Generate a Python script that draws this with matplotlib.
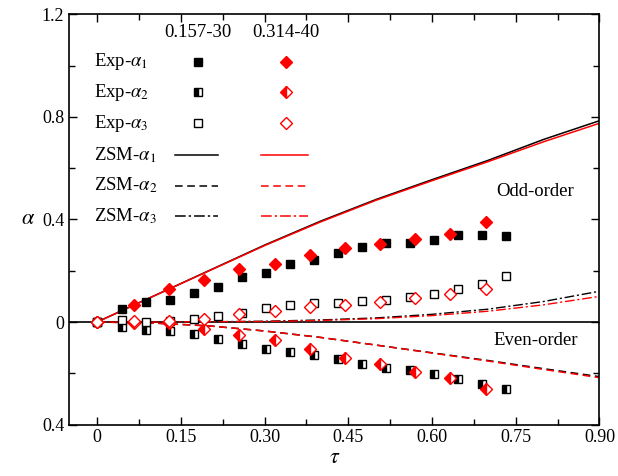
import numpy as np
import matplotlib
matplotlib.use('Agg')
import matplotlib.pyplot as plt

plt.rcParams['font.family'] = ['Liberation Serif', 'DejaVu Serif']
plt.rcParams['mathtext.fontset'] = 'stix'

# experiment 0.157-30 (black squares)
tau_b = [0, 0.045, 0.088, 0.131, 0.174, 0.217, 0.260, 0.303, 0.346, 0.389, 0.432,
         0.475, 0.518, 0.561, 0.604, 0.647, 0.690, 0.733]
a1_b = [0, 0.052, 0.078, 0.087, 0.113, 0.135, 0.176, 0.193, 0.225, 0.240, 0.271,
        0.292, 0.308, 0.308, 0.318, 0.338, 0.340, 0.335]
a2_b = [0, -0.019, -0.030, -0.035, -0.048, -0.066, -0.084, -0.104, -0.117, -0.130, -0.145,
        -0.165, -0.178, -0.188, -0.201, -0.223, -0.240, -0.262]
a3_b = [0, 0.007, 0.001, 0.004, 0.013, 0.023, 0.034, 0.053, 0.065, 0.073, 0.075,
        0.081, 0.084, 0.096, 0.108, 0.130, 0.149, 0.178]

# experiment 0.314-40 (red diamonds)
tau_r = [0, 0.066, 0.129, 0.192, 0.255, 0.318, 0.381, 0.444, 0.507, 0.570, 0.633, 0.696]
a1_r = [0, 0.065, 0.130, 0.162, 0.205, 0.227, 0.261, 0.290, 0.303, 0.322, 0.345, 0.391]
a2_r = [0, -0.002, -0.005, -0.026, -0.052, -0.071, -0.105, -0.139, -0.165, -0.194, -0.219, -0.262]
a3_r = [0, 0.003, 0.005, 0.013, 0.033, 0.043, 0.060, 0.068, 0.079, 0.093, 0.109, 0.127]

# ZSM model curves
tau_m = [0, 0.1, 0.2, 0.3, 0.4, 0.5, 0.6, 0.7, 0.8, 0.9]
z1_b = [0, 0.100, 0.200, 0.300, 0.393, 0.478, 0.555, 0.630, 0.712, 0.785]
z1_r = [0, 0.100, 0.199, 0.298, 0.390, 0.475, 0.551, 0.625, 0.703, 0.775]
z2_b = [0, -0.004, -0.015, -0.035, -0.060, -0.090, -0.120, -0.150, -0.182, -0.213]
z2_r = [0, -0.004, -0.015, -0.035, -0.060, -0.090, -0.121, -0.152, -0.185, -0.217]
z3_b = [0, 0.000, 0.001, 0.003, 0.008, 0.016, 0.030, 0.050, 0.080, 0.120]
z3_r = [0, 0.000, 0.001, 0.002, 0.006, 0.013, 0.025, 0.042, 0.067, 0.100]

fig = plt.figure(figsize=(6.18, 4.76), dpi=100)
ax = fig.add_axes([0.112, 0.108, 0.858, 0.862])

red = '#ff0000'
ax.axhline(0, color='black', lw=1.2, zorder=1)

ax.plot(tau_m, z1_b, '-', color='black', lw=1.1)
ax.plot(tau_m, z1_r, '-', color=red, lw=1.1)
ax.plot(tau_m, z2_b, '--', color='black', lw=1.1, dashes=(5, 3))
ax.plot(tau_m, z2_r, '--', color=red, lw=1.1, dashes=(5, 3))
ax.plot(tau_m, z3_b, '-.', color='black', lw=1.0, dashes=(7, 2, 1.5, 2))
ax.plot(tau_m, z3_r, '-.', color=red, lw=1.0, dashes=(7, 2, 1.5, 2))

sq = dict(marker='s', ms=6, ls='none', mec='black', mew=1.0)
dm = dict(marker='D', ms=6.5, ls='none', mec=red, mew=1.0)
ax.plot(tau_b, a1_b, mfc='black', **sq)
ax.plot(tau_b, a2_b, mfc='black', fillstyle='left', markerfacecoloralt='white', **sq)
ax.plot(tau_b, a3_b, mfc='white', **sq)
ax.plot(tau_r, a1_r, mfc=red, **dm)
ax.plot(tau_r, a2_r, mfc=red, fillstyle='left', markerfacecoloralt='white', **dm)
ax.plot(tau_r, a3_r, mfc='white', **dm)

# hand-made legend
fs = 13.5
xb, xr = 0.181, 0.338
ax.text(xb, 1.13, '0.157-30', ha='center', va='center', fontsize=fs)
ax.text(xr, 1.13, '0.314-40', ha='center', va='center', fontsize=fs)
rows = [1.015, 0.895, 0.775]
labels = [r'Exp-$\alpha_1$', r'Exp-$\alpha_2$', r'Exp-$\alpha_3$']
fills = [('full', 'black', red), ('left', 'black', red), ('full', 'white', 'white')]
for y, lab, (fstyle, cb, cr) in zip(rows, labels, fills):
    ax.text(-0.005, y, lab, ha='left', va='center', fontsize=fs)
    ax.plot([xb], [y], marker='s', ms=6, mec='black', mfc=cb, fillstyle=fstyle,
            markerfacecoloralt='white', ls='none')
    ax.plot([xr], [y], marker='D', ms=6.5, mec=red, mfc=cr, fillstyle=fstyle,
            markerfacecoloralt='white', ls='none')
zrows = [0.651, 0.532, 0.413]
zlabels = [r'ZSM-$\alpha_1$', r'ZSM-$\alpha_2$', r'ZSM-$\alpha_3$']
zstyles = [dict(ls='-'), dict(ls='--', dashes=(5, 3)), dict(ls='-.', dashes=(7, 2, 1.5, 2))]
for y, lab, st in zip(zrows, zlabels, zstyles):
    ax.text(-0.005, y, lab, ha='left', va='center', fontsize=fs)
    ax.plot([0.14, 0.217], [y, y], color='black', lw=1.1, **st)
    ax.plot([0.294, 0.377], [y, y], color=red, lw=1.1, **st)

ax.text(0.785, 0.51, 'Odd-order', ha='center', va='center', fontsize=fs)
ax.text(0.785, -0.074, 'Even-order', ha='center', va='center', fontsize=fs)

ax.set_xlim(-0.05, 0.90)
ax.set_ylim(-0.4, 1.2)
ax.set_xticks([0, 0.15, 0.30, 0.45, 0.60, 0.75, 0.90])
ax.set_xticklabels(['0', '0.15', '0.30', '0.45', '0.60', '0.75', '0.90'])
ax.set_xticks(np.arange(0.075, 0.9, 0.15), minor=True)
ax.set_yticks([-0.4, 0, 0.4, 0.8, 1.2])
ax.set_yticklabels(['0.4', '0', '0.4', '0.8', '1.2'])
ax.set_yticks([-0.2, 0.2, 0.6, 1.0], minor=True)
ax.tick_params(which='both', direction='in', top=True, right=True, labelsize=13, width=1.0)
ax.tick_params(which='major', length=6)
ax.tick_params(which='minor', length=4)
for s in ax.spines.values():
    s.set_linewidth(1.2)
ax.set_xlabel(r'$\tau$', fontsize=16, labelpad=2)
ax.set_ylabel(r'$\alpha$', fontsize=16, rotation=0, labelpad=10, va='center')

fig.savefig('out.png', dpi=100)
